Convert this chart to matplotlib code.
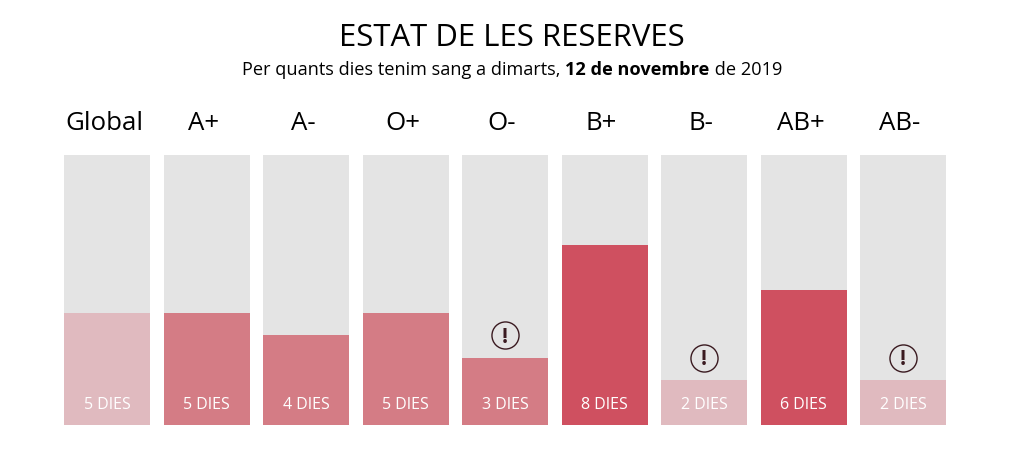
import matplotlib
matplotlib.use("Agg")
import matplotlib.pyplot as plt

plt.rcParams['font.family'] = ['Open Sans', 'DejaVu Sans']

# --- dades ---
grups = ["Global", "A+", "A-", "O+", "O-", "B+", "B-", "AB+", "AB-"]
dies = [5, 5, 4, 5, 3, 8, 2, 6, 2]
etiquetes = ["5 DIES", "5 DIES", "4 DIES", "5 DIES", "3 DIES", "8 DIES", "2 DIES", "6 DIES", "2 DIES"]
colors = ["#e0babf", "#d47c85", "#d47c85", "#d47c85", "#d47c85", "#cf5060", "#e0babf", "#cf5060", "#e0babf"]
alerta = [False, False, False, False, True, False, True, False, True]
maxim = 12

W, H = 1018, 453
fig = plt.figure(figsize=(W / 100, H / 100), dpi=100)
# eix en pixels per a les barres: 64..946 horitzontal, 155..425 vertical
ax = fig.add_axes([64 / W, (H - 425) / H, (946 - 64) / W, (425 - 155) / H])
amp = 86 / 99.5
ax.set_xlim(-amp / 2, 8 + amp / 2)
ax.set_ylim(0, maxim)
ax.axis("off")

for i, g in enumerate(grups):
    ax.bar(i, maxim, width=amp, color="#e4e4e4", linewidth=0)
    ax.bar(i, dies[i], width=amp, color=colors[i], linewidth=0)
    ax.text(i, 0.88, etiquetes[i], color="white", ha="center", va="center", fontsize=11.5)
    ax.text(i - 0.03, maxim + 1.42, g, color="black", ha="center", va="center", fontsize=18.6, clip_on=False)
    if alerta[i]:
        ax.plot(i, dies[i] + 1.0, "o", ms=19.5, mfc="none", mec="#3a1a20", mew=1, clip_on=False)
        ax.text(i, dies[i] + 0.9, "!", ha="center", va="center", fontsize=15,
                fontweight="bold", color="#3a1a20")

fig.text(512 / W, 1 - 38.5 / H, "ESTAT DE LES RESERVES", ha="center", va="center", fontsize=22.4, color="black")

# subtitol en tres trossos per tenir la negreta amb la mateixa font
trossos = ["Per quants dies tenim sang a dimarts, ", "12 de novembre", " de 2019"]
pesos = ["normal", "bold", "normal"]
r = fig.canvas.get_renderer()
textos = [fig.text(0, 1 - 68 / H, t, ha="left", va="center_baseline", fontsize=13.02, fontweight=p, color="black")
          for t, p in zip(trossos, pesos)]
# els espais finals no compten, es mesuren amb un punt de mes
amples = []
for t in textos:
    s = t.get_text()
    t.set_text("." + s + ".")
    a = t.get_window_extent(r).width
    t.set_text("..")
    a -= t.get_window_extent(r).width
    t.set_text(s)
    amples.append(a)
x = 512 - sum(amples) / 2
for t, a in zip(textos, amples):
    t.set_x(x / W)
    x += a

fig.savefig("out.png", dpi=100)
